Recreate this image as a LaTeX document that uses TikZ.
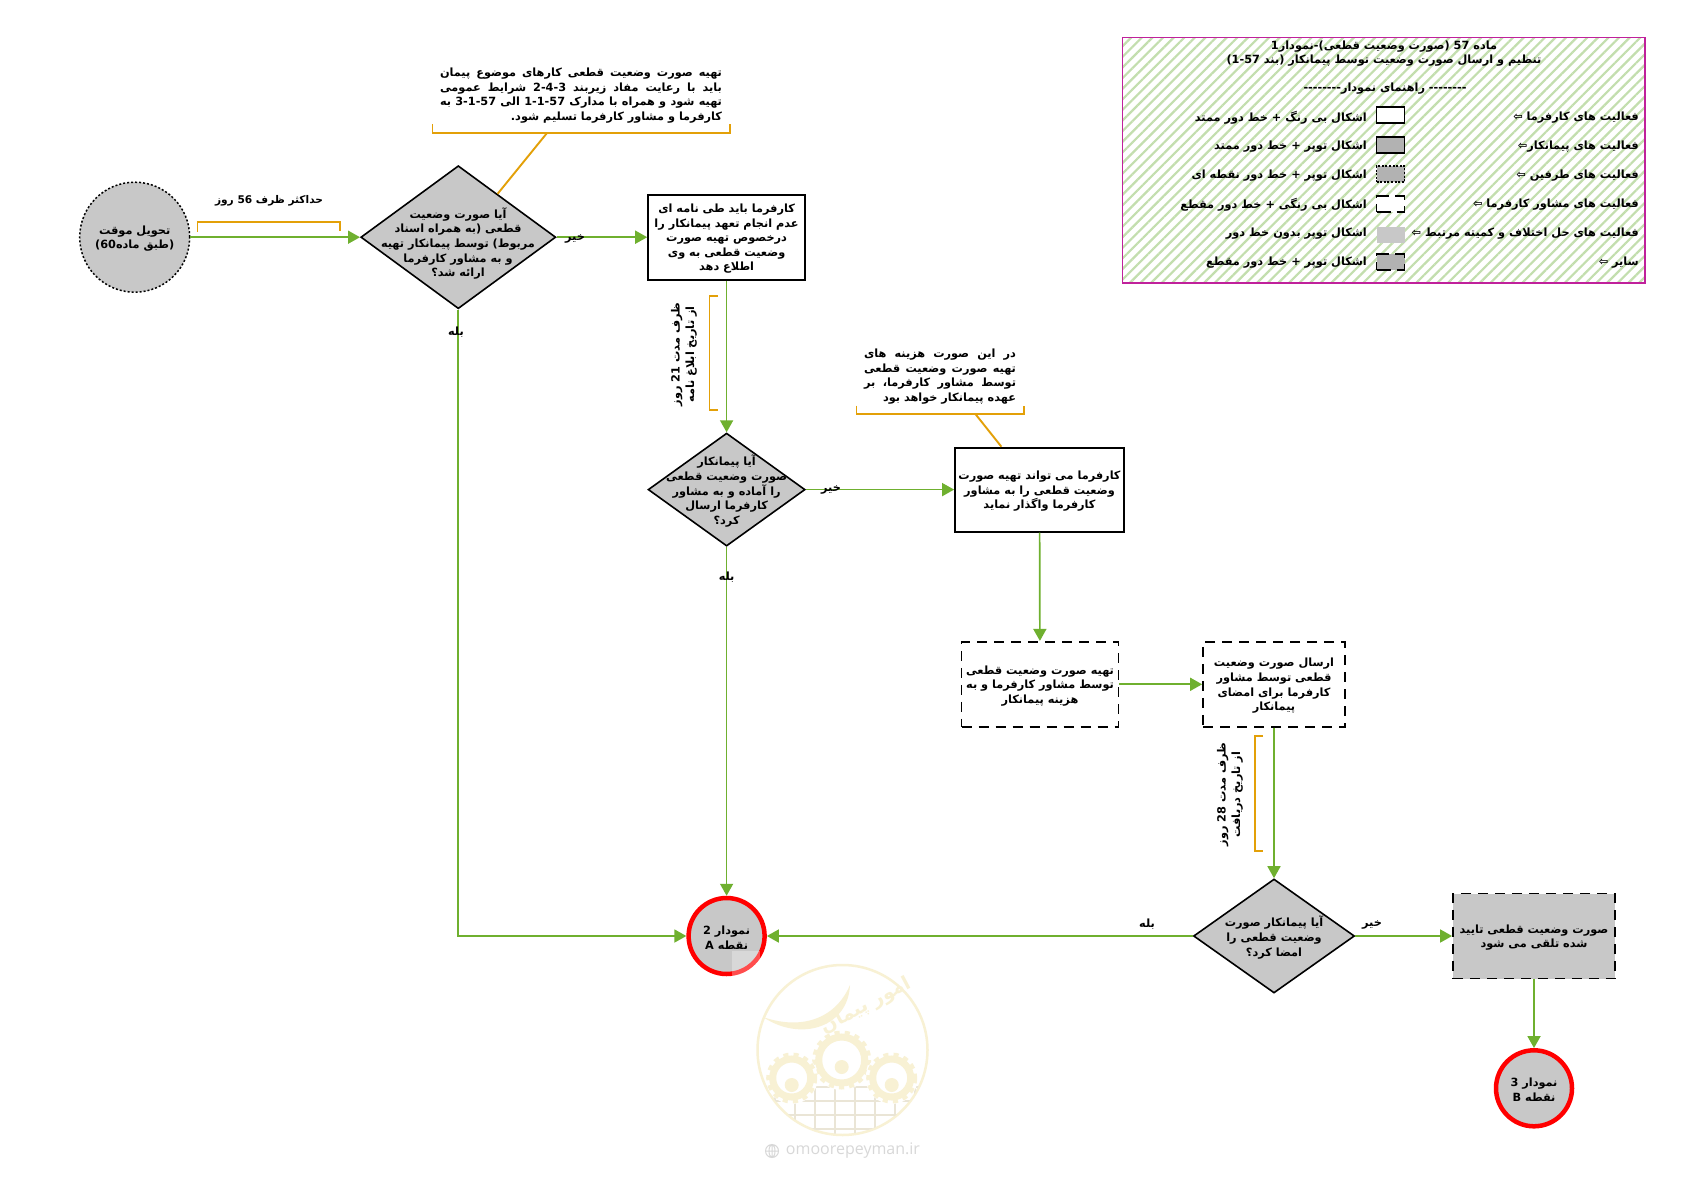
\documentclass[tikz,border=0pt]{standalone}
\usepackage{fontspec}
\usetikzlibrary{arrows.meta,shapes.geometric,patterns.meta,calc}
\TeXXeTstate=1
\newfontfamily\fa[Script=Arabic]{DejaVu Sans}
\newfontfamily\la{Open Sans}
\newcommand\rl[1]{\beginR #1\endR}
\newcommand\lt[1]{\beginL #1\endL{}}
\newcommand\jl[2]{\hbox to #1{\spaceskip=.3em plus 1fil #2}}
\definecolor{flowc}{HTML}{6FB02F}
\definecolor{notec}{HTML}{E3A008}
\definecolor{shadec}{HTML}{C8C8C8}
\definecolor{legshade}{HTML}{B2B2B2}
\definecolor{hatchc}{HTML}{C3DEAE}
\definecolor{framec}{HTML}{C0219B}
\definecolor{wmc}{HTML}{F8F1D4}
\definecolor{wmgrid}{HTML}{EAE5D6}
\definecolor{wmurl}{HTML}{D8D8D8}
\tikzset{
  txt/.style={font=\fa\bfseries\fontsize{11.3}{14.6}\selectfont,align=center,inner sep=0pt,text=black,yshift=-1.5pt},
  txtr/.style={txt,align=right},
  lab/.style={txt,anchor=center},
  solidbox/.style={draw=black,line width=1.8pt,fill=white,inner sep=0pt},
  dashbox/.style={draw=black,line width=1.8pt,dash pattern=on 10pt off 7pt,fill=white,inner sep=0pt},
  dashgray/.style={dashbox,fill=shadec},
  dia/.style={diamond,draw=black,line width=1.6pt,fill=shadec,inner sep=0pt,aspect=1.3},
  flowline/.style={draw=flowc,line width=1.7pt,-{Triangle[length=12pt,width=13pt]}},
  notebr/.style={draw=notec,line width=1.9pt},
  endpt/.style={circle,draw=red,line width=4.5pt,fill=shadec,inner sep=0pt,minimum size=76pt},
  legkey/.style={minimum width=28pt,minimum height=16pt,inner sep=0pt,line width=1.5pt},
  wmline/.style={draw=wmc,line width=2.5pt},
}
\begin{document}
\begin{tikzpicture}[x=1pt,y=-1pt]
\useasboundingbox (0,0) rectangle (1683,1190);
\fill[white] (0,0) rectangle (1683,1190);

% watermark
\draw[wmline] (842.5,1050) circle (85);
\begin{scope}
\clip (842.5,1050) circle (84);
\foreach \yy in {1087,1101,1115,1129} \draw[wmgrid,line width=2pt] (760,\yy) -- (925,\yy);
\foreach \xx in {775,795,815,835,855,875,895,915} \draw[wmgrid,line width=2pt] (\xx,1087) -- (\xx,1135);
\end{scope}
\foreach \cx/\cy/\cr in {841.7/1060/23,791.7/1078/19,891.7/1078/19}{
  \fill[white] (\cx,\cy) circle (\cr+7);
  \draw[wmc,line width=5pt,dash pattern=on 5pt off 5pt] (\cx,\cy) circle (\cr+4);
  \draw[wmc,line width=7pt] (\cx,\cy) circle (\cr);
  \fill[wmc] (\cx,\cy+7) circle (7);
}
\fill[wmc] (763,1017) .. controls (800,1030) and (835,1020) .. (850,985) .. controls (848,1028) and (800,1042) .. (763,1017);
\node[font=\fa\bfseries\fontsize{19}{19}\selectfont,text=wmc,rotate=28,inner sep=0pt] (wmname) at (866,1006) {\beginR امور پیمان\endR};
\node[font=\la\fontsize{16}{16}\selectfont,text=wmurl,inner sep=0pt] (wmurltext) at (853,1151) {omoorepeyman.ir};
\draw[wmurl,line width=1pt] (772,1151) circle (6.5) (772,1144.5) -- (772,1157.5) (765.5,1151) -- (778.5,1151) (772,1151) ellipse (3 and 6.5);

% legend
\path[pattern={Lines[angle=45,distance=7.5pt,line width=2.2pt]},pattern color=hatchc] (1122.6,37.6) rectangle (1645,283);
\draw[framec,line width=1.6pt] (1122.6,37.6) rectangle (1645,283);
\node[txt] (legtitle) at (1384,52) {\rl{ماده \lt{57} (صورت وضعیت قطعی)-نمودار\lt{1}}\\\rl{تنظیم و ارسال صورت وضعیت توسط پیمانکار (بند \lt{1-57})}};
\node[txt] (legguide) at (1385,87) {\rl{-------- راهنمای نمودار--------}};

\node[txt,anchor=east] (lr1) at (1639,116) {\rl{فعالیت های کارفرما ⇦}};
\node[txt,anchor=east] (lr2) at (1639,145) {\rl{فعالیت های پیمانکار⇦}};
\node[txt,anchor=east] (lr3) at (1639,174) {\rl{فعالیت های طرفین ⇦}};
\node[txt,anchor=east] (lr4) at (1639,203) {\rl{فعالیت های مشاور کارفرما ⇦}};
\node[txt,anchor=east] (lr5) at (1639,232) {\rl{فعالیت های حل اختلاف و کمیته مرتبط ⇦}};
\node[txt,anchor=east] (lr6) at (1639,261) {\rl{سایر ⇦}};

\node[txt,anchor=east] (lm1) at (1367,116) {\rl{اشکال بی رنگ + خط دور ممتد}};
\node[txt,anchor=east] (lm2) at (1367,145) {\rl{اشکال توپر + خط دور ممتد}};
\node[txt,anchor=east] (lm3) at (1367,174) {\rl{اشکال توپر + خط دور نقطه ای}};
\node[txt,anchor=east] (lm4) at (1367,203) {\rl{اشکال بی رنگی + خط دور مقطع}};
\node[txt,anchor=east] (lm5) at (1367,232) {\rl{اشکال توپر بدون خط دور}};
\node[txt,anchor=east] (lm6) at (1367,261) {\rl{اشکال توپر + خط دور مقطع}};

\node[legkey,draw=black,fill=white] (k1) at (1390.5,115) {};
\node[legkey,draw=black,fill=legshade] (k2) at (1390.5,145) {};
\node[legkey,draw=black,fill=legshade,dash pattern=on 2pt off 1.6pt] (k3) at (1390.5,174) {};
\node[legkey,draw=black,dash pattern=on 14pt off 6pt,fill=white] (k4) at (1390.5,204) {};
\node[legkey,fill=shadec] (k5) at (1390.5,235) {};
\node[legkey,draw=black,dash pattern=on 14pt off 6pt,fill=legshade] (k6) at (1390.5,262) {};

% process shapes
\node[circle,draw=black,line width=1.5pt,dash pattern=on 2pt off 2pt,fill=shadec,inner sep=0pt,minimum size=110pt] (start) at (134.7,237.2) {};
\node[txt] (startt) at (134.7,237.2) {\rl{تحویل موقت}\\\rl{(طبق ماده\lt{60})}};

\node[dia,minimum width=195pt,minimum height=143pt] (d1) at (458.3,237.2) {};
\node[txt] (d1t) at (458,242) {\rl{آیا صورت وضعیت}\\\rl{قطعی (به همراه اسناد}\\\rl{مربوط) توسط پیمانکار تهیه}\\\rl{و به مشاور کارفرما}\\\rl{ارائه شد؟}};

\node[solidbox,minimum width=157pt,minimum height=85pt] (b1) at (726.6,237.2) {};
\node[txt] (b1t) at (726.6,237.2) {\rl{کارفرما باید طی نامه ای}\\\rl{عدم انجام تعهد پیمانکار را}\\\rl{درخصوص تهیه صورت}\\\rl{وضعیت قطعی به وی}\\\rl{اطلاع دهد}};

\node[dia,minimum width=157pt,minimum height=113pt] (d2) at (726.6,489.6) {};
\node[txt] (d2t) at (726.6,489.6) {\rl{آیا پیمانکار}\\\rl{صورت وضعیت قطعی}\\\rl{را آماده و به مشاور}\\\rl{کارفرما ارسال}\\\rl{کرد؟}};

\node[solidbox,minimum width=169pt,minimum height=84pt] (b2) at (1039.5,489.6) {};
\node[txt] (b2t) at (1039.5,489.6) {\rl{کارفرما می تواند تهیه صورت}\\\rl{وضعیت قطعی را به مشاور}\\\rl{کارفرما واگذار نماید}};

\node[dashbox,minimum width=157pt,minimum height=85pt] (b3) at (1040,684.3) {};
\node[txt] (b3t) at (1040,684.3) {\rl{تهیه صورت وضعیت قطعی}\\\rl{توسط مشاور کارفرما و به}\\\rl{هزینه پیمانکار}};

\node[dashbox,minimum width=142pt,minimum height=85pt] (b4) at (1274,684.3) {};
\node[txt] (b4t) at (1274,684.3) {\rl{ارسال صورت وضعیت}\\\rl{قطعی توسط مشاور}\\\rl{کارفرما برای امضای}\\\rl{پیمانکار}};

\node[dia,minimum width=161pt,minimum height=114pt] (d3) at (1274,936) {};
\node[txt] (d3t) at (1274,936) {\rl{آیا پیمانکار صورت}\\\rl{وضعیت قطعی را}\\\rl{امضا کرد؟}};

\node[dashgray,minimum width=162pt,minimum height=85pt] (b5) at (1534,936) {};
\node[txt] (b5t) at (1534,936) {\rl{صورت وضعیت قطعی تایید}\\\rl{شده تلقی می شود}};

\node[endpt] (ea) at (726.6,936) {};
\node[txt] (eat) at (726.6,936) {\rl{نمودار \lt{2}}\\\rl{نقطه \lt{A}}};
\fill[white,opacity=.3] (732,951) rectangle (760,976);
\node[endpt] (eb) at (1534,1088.3) {};
\node[txt] (ebt) at (1534,1088.3) {\rl{نمودار \lt{3}}\\\rl{نقطه \lt{B}}};

% connectors
\draw[flowline] (start) -- (d1);
\draw[flowline] (d1) -- (b1);
\draw[flowline] (d1.south) |- (ea.west);
\draw[flowline] (b1) -- (d2);
\draw[flowline] (d2) -- (b2);
\draw[flowline] (d2) -- (ea);
\draw[flowline] (b2) -- (b3);
\draw[flowline] (b3) -- (b4);
\draw[flowline] (b4) -- (d3);
\draw[flowline] (d3) -- (ea);
\draw[flowline] (d3) -- (b5);
\draw[flowline] (b5) -- (eb);

% connector labels
\node[lab] (l1) at (575,237) {\rl{خیر}};
\node[lab] (l2) at (456,331) {\rl{بله}};
\node[lab] (l3) at (831,488.6) {\rl{خیر}};
\node[lab] (l4) at (726.6,576) {\rl{بله}};
\node[lab] (l5) at (1147,923) {\rl{بله}};
\node[lab] (l6) at (1372,923) {\rl{خیر}};

% notes
\node[lab,font=\fa\bfseries\fontsize{10.6}{14.6}\selectfont] (n0) at (269,199) {\rl{حداکثر ظرف \lt{56} روز}};
\draw[notebr] (197.5,232) -- (197.5,222) -- (340,222) -- (340,231);

\node[txtr] (n1) at (581,94) {\jl{282pt}{\beginR تهیه صورت وضعیت قطعی کارهای موضوع پیمان\endR}\\\jl{282pt}{\beginR باید با رعایت مفاد زیربند \lt{2-4-3} شرایط عمومی\endR}\\\jl{282pt}{\beginR تهیه شود و همراه با مدارک \lt{1-1-57} الی \lt{3-1-57} به\endR}\\\rl{کارفرما و مشاور کارفرما تسلیم شود.}};
\coordinate (n1a) at ($(d1.north)!0.4!(d1.east)$);
\draw[notebr] (432.5,124.5) -- (432.5,133) -- (730,133) -- (730,124.5);
\coordinate (n1b) at (547,133);
\draw[notebr] (n1b) -- (n1a);

\draw[notebr] (718,296) -- (709.5,296) -- (709.5,410) -- (718,410);
\node[txt,rotate=90] (n2) at (684,353) {\rl{ظرف مدت \lt{21} روز}\\\rl{از تاریخ ابلاغ نامه}};

\node[txtr] (n3) at (940,375) {\jl{152pt}{\beginR در این صورت هزینه های\endR}\\\jl{152pt}{\beginR تهیه صورت وضعیت قطعی\endR}\\\jl{152pt}{\beginR توسط مشاور کارفرما، بر\endR}\\\rl{عهده پیمانکار خواهد بود}};
\draw[notebr] (856.5,405.7) -- (856.5,414.3) -- (1024,414.3) -- (1024,405.7);
\coordinate (n3b) at (975.6,414.3);
\coordinate (n3a) at (b2.north -| 1001.4,0);
\draw[notebr] (n3b) -- (n3a);

\draw[notebr] (1263,736) -- (1254.7,736) -- (1254.7,851) -- (1263,851);
\node[txt,rotate=90] (n4) at (1230,793) {\rl{ظرف مدت \lt{28} روز}\\\rl{از تاریخ دریافت}};
\end{tikzpicture}
\end{document}
